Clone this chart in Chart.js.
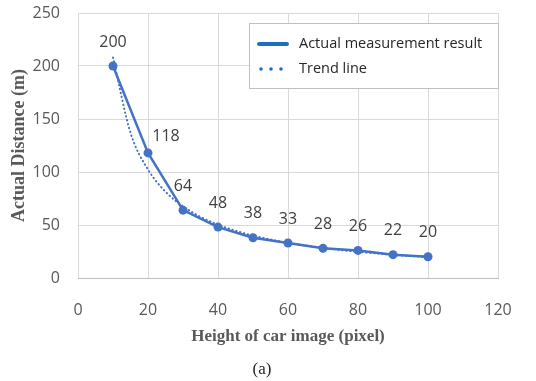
<!DOCTYPE html>
<html>
<head>
<meta charset="utf-8">
<script src="https://cdn.jsdelivr.net/npm/chart.js@4"></script>
<style>
    body { margin: 0; background: #fff; }
    #wrap { width: 536px; height: 381px; }
</style>
</head>
<body>
<div id="wrap"><canvas id="distanceChart"></canvas></div>
<script>
// measured points
const carHeights = [10, 20, 30, 40, 50, 60, 70, 80, 90, 100];
const distances = [200, 118, 64, 48, 38, 33, 28, 26, 22, 20];

// dotted trend curve
const trendX = [10, 15, 20, 25, 30, 35, 40, 45, 50, 55, 60, 65, 70, 75, 80, 85, 90, 95, 100];
const trendY = [208, 137, 102.4, 81.4, 67.6, 57.7, 50.3, 44.6, 40, 36.3, 33.2, 30.6, 28.4, 26.4, 24.7, 23.3, 21.9, 20.7, 19.7];

const xTicks = [0, 20, 40, 60, 80, 100, 120];
const yTicks = [0, 50, 100, 150, 200, 250];

const seriesNames = ['Actual measurement result', 'Trend line'];

const lineBlue = '#4472c4';
const legendBlue = '#1a6fc4';
const gridGray = '#d9d9d9';
const textGray = '#595959';

// value labels above each measured point
const pointLabels = {
    id: 'pointLabels',
    afterDatasetsDraw(chart) {
        const ctx = chart.ctx;
        const meta = chart.getDatasetMeta(1);
        ctx.save();
        ctx.font = '16px "Open Sans"';
        ctx.fillStyle = '#404040';
        ctx.textAlign = 'center';
        ctx.textBaseline = 'middle';
        meta.data.forEach((pt, i) => {
            // the 118 label sits to the right of the line
            const dx = i === 1 ? 18 : 0;
            const dy = i === 1 ? -16 : -24;
            ctx.fillText(String(distances[i]), pt.x + dx, pt.y + dy);
        });
        ctx.restore();
    }
};

// boxed legend inside the plot, plus the (a) caption
const boxLegend = {
    id: 'boxLegend',
    afterDraw(chart) {
        const ctx = chart.ctx;
        ctx.save();
        ctx.fillStyle = '#fff';
        ctx.fillRect(249.5, 23.5, 249, 65);
        ctx.strokeStyle = '#bfbfbf';
        ctx.lineWidth = 1;
        ctx.strokeRect(249.5, 23.5, 249, 65);

        ctx.strokeStyle = legendBlue;
        ctx.lineCap = 'round';
        ctx.lineWidth = 4;
        ctx.beginPath();
        ctx.moveTo(259, 44);
        ctx.lineTo(287, 44);
        ctx.stroke();

        ctx.fillStyle = legendBlue;
        [261, 271, 281].forEach(x => {
            ctx.beginPath();
            ctx.arc(x, 69, 1.8, 0, Math.PI * 2);
            ctx.fill();
        });

        ctx.fillStyle = '#262626';
        ctx.font = '14.5px "Open Sans"';
        ctx.textAlign = 'left';
        ctx.textBaseline = 'middle';
        ctx.fillText(seriesNames[0], 299, 44);
        ctx.fillText(seriesNames[1], 299, 69);

        ctx.font = '17px "Liberation Serif"';
        ctx.textAlign = 'center';
        ctx.fillText('(a)', 262, 370);
        ctx.restore();
    }
};

const ctx = document.getElementById('distanceChart').getContext('2d');

new Chart(ctx, {
    type: 'scatter',
    data: {
        datasets: [{
            label: seriesNames[1],
            data: trendX.map((x, i) => ({ x: x, y: trendY[i] })),
            showLine: true,
            borderColor: lineBlue,
            borderWidth: 2,
            borderDash: [0.5, 3.5],
            borderCapStyle: 'round',
            cubicInterpolationMode: 'monotone',
            pointRadius: 0,
            order: 2
        }, {
            label: seriesNames[0],
            data: carHeights.map((x, i) => ({ x: x, y: distances[i] })),
            showLine: true,
            borderColor: lineBlue,
            backgroundColor: lineBlue,
            borderWidth: 2.5,
            pointRadius: 4.5,
            pointBackgroundColor: lineBlue,
            pointBorderWidth: 0,
            order: 1
        }]
    },
    options: {
        responsive: true,
        maintainAspectRatio: false,
        animation: false,
        layout: {
            padding: { top: 13, right: 38, bottom: 33, left: 0 }
        },
        plugins: {
            legend: { display: false },
            tooltip: { enabled: false }
        },
        scales: {
            x: {
                type: 'linear',
                min: 0,
                max: 120,
                afterBuildTicks: scale => { scale.ticks = xTicks.map(v => ({ value: v })); },
                afterFit: scale => { scale.height = 70; },
                grid: { color: gridGray, drawTicks: false },
                border: { color: '#bfbfbf' },
                ticks: {
                    padding: 23,
                    color: textGray,
                    font: { family: 'Open Sans', size: 16 }
                },
                title: {
                    display: true,
                    text: 'Height of car image (pixel)',
                    color: textGray,
                    font: { family: 'Liberation Serif', size: 17, weight: 'bold' },
                    padding: { top: 4, bottom: 1 }
                }
            },
            y: {
                min: 0,
                max: 250,
                afterBuildTicks: scale => { scale.ticks = yTicks.map(v => ({ value: v })); },
                afterFit: scale => {
                    scale.width = 78;
                    scale.paddingTop = 0;
                    scale.paddingBottom = 0;
                },
                grid: { color: gridGray, drawTicks: false },
                border: { display: false },
                ticks: {
                    padding: 18,
                    color: textGray,
                    font: { family: 'Open Sans', size: 16 }
                },
                title: {
                    display: true,
                    text: 'Actual Distance (m)',
                    color: textGray,
                    font: { family: 'Liberation Serif', size: 18, weight: 'bold' },
                    padding: { top: 9, bottom: 0 }
                }
            }
        }
    },
    plugins: [pointLabels, boxLegend]
});
</script>
</body>
</html>
